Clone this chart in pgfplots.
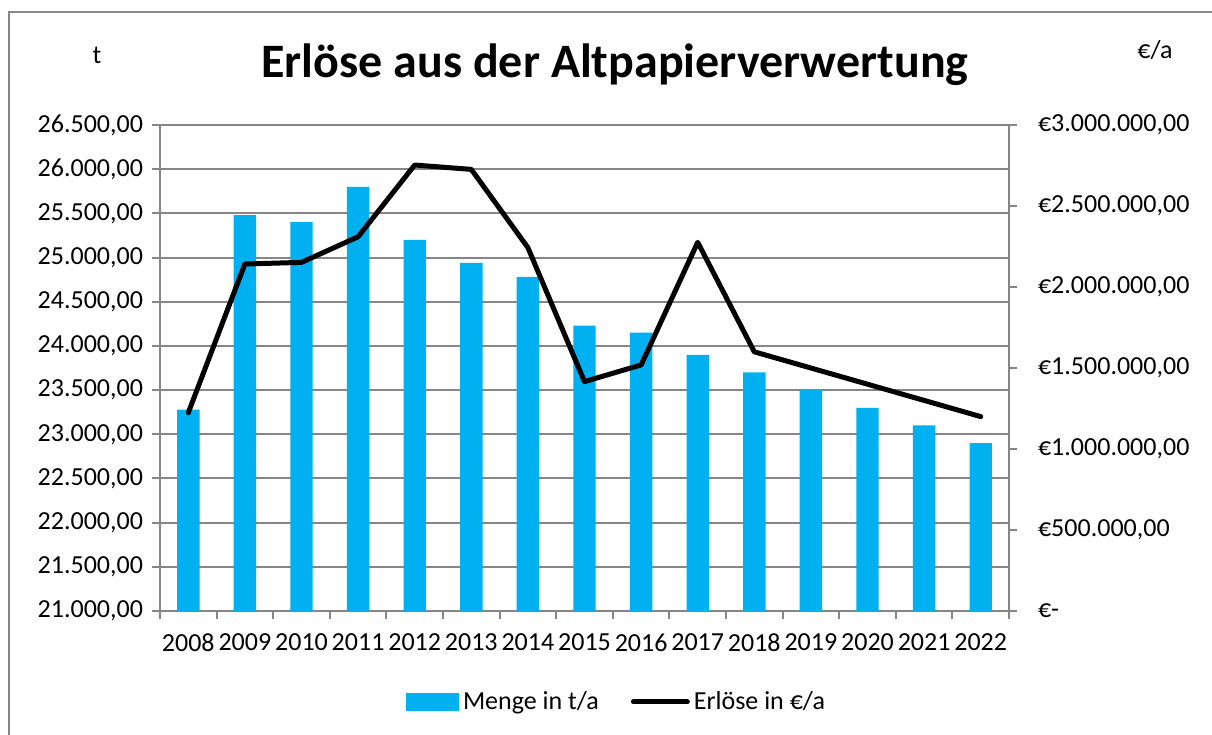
\documentclass[border=0pt]{standalone}
\usepackage{pgfplots}
\pgfplotsset{compat=1.18}
\usepackage{fontspec}
\setmainfont{Carlito}
\definecolor{barblue}{HTML}{00B0F0}
\definecolor{gridgray}{HTML}{868686}
\begin{document}
\begin{tikzpicture}
\useasboundingbox (0,0) rectangle (606bp,-367.5bp);
\begin{scope}[x=0.5bp,y=-0.5bp]
\draw[gridgray, line width=0.8bp] (9,740) -- (9,12) -- (1215,12);
\node[font=\bfseries\fontsize{24bp}{28bp}\selectfont] at (615,65) {Erlöse aus der Altpapierverwertung};
\node[font=\fontsize{13bp}{15bp}\selectfont] at (97,55) {t};
\node[font=\fontsize{13bp}{15bp}\selectfont] at (1155,50) {€/a};
\end{scope}
\begin{axis}[
  at={(80bp,-305.5bp)}, anchor=south west,
  scale only axis, width=424.5bp, height=243bp,
  xmin=-0.5, xmax=14.5, ymin=21000, ymax=26500,
  axis x line*=bottom, axis y line*=left,
  axis line style={gridgray, line width=1bp},
  tick align=outside, major tick length=4bp,
  tick style={gridgray, line width=1bp},
  scaled y ticks=false,
  xtick={-0.5,0.5,...,14.5}, xticklabels={},
  extra x ticks={0,1,...,14},
  extra x tick labels={2008,2009,2010,2011,2012,2013,2014,2015,2016,2017,2018,2019,2020,2021,2022},
  extra x tick style={major tick length=0pt, grid=none, xticklabel style={yshift=-8bp}},
  ytick={21000,21500,...,26500},
  yticklabels={{21.000,00},{21.500,00},{22.000,00},{22.500,00},{23.000,00},{23.500,00},{24.000,00},{24.500,00},{25.000,00},{25.500,00},{26.000,00},{26.500,00}},
  ymajorgrids, grid style={gridgray, line width=1bp},
  tick label style={font=\fontsize{13bp}{15bp}\selectfont, black},
  yticklabel style={xshift=-1bp},
  clip=true,
]
\addplot[ybar, bar width=11.2bp, fill=barblue, draw=none] coordinates {
(0,23280) (1,25480) (2,25400) (3,25800) (4,25200) (5,24940) (6,24780)
(7,24230) (8,24150) (9,23900) (10,23700) (11,23500) (12,23300) (13,23100) (14,22900)};
\end{axis}
\begin{axis}[
  at={(80bp,-305.5bp)}, anchor=south west,
  scale only axis, width=424.5bp, height=243bp,
  xmin=-0.5, xmax=14.5, ymin=0, ymax=3000000,
  axis x line=none, axis y line*=right,
  axis line style={gridgray, line width=1bp},
  tick align=outside, major tick length=4bp,
  tick style={gridgray, line width=1bp},
  scaled y ticks=false,
  ytick={0,500000,1000000,1500000,2000000,2500000,3000000},
  yticklabels={{€-},{€500.000,00},{€1.000.000,00},{€1.500.000,00},{€2.000.000,00},{€2.500.000,00},{€3.000.000,00}},
  tick label style={font=\fontsize{13bp}{15bp}\selectfont, black},
  yticklabel style={xshift=7bp},
  legend style={at={(0.539,-0.187)}, anchor=center, draw=none, fill=none,
    legend columns=2, font=\fontsize{13bp}{15bp}\selectfont,
    /tikz/every even column/.append style={column sep=14bp}},
]
\addlegendimage{legend image code/.code={\fill[barblue] (0bp,-4.25bp) rectangle (26bp,4.25bp);}}
\addlegendentry{Menge in t/a}
\addplot[black, line width=2.5bp, line join=round, line cap=round,
  legend image code/.code={\draw[black,line width=2.5bp,line cap=round] (0bp,0bp) -- (27bp,0bp);}] coordinates {
(0,1224000) (1,2142000) (2,2152000) (3,2310000) (4,2753000) (5,2726000) (6,2243000)
(7,1416000) (8,1519000) (9,2276000) (10,1600000) (11,1500000) (12,1400000) (13,1300000) (14,1200000)};
\addlegendentry{Erlöse in €/a}
\end{axis}
\end{tikzpicture}
\end{document}
